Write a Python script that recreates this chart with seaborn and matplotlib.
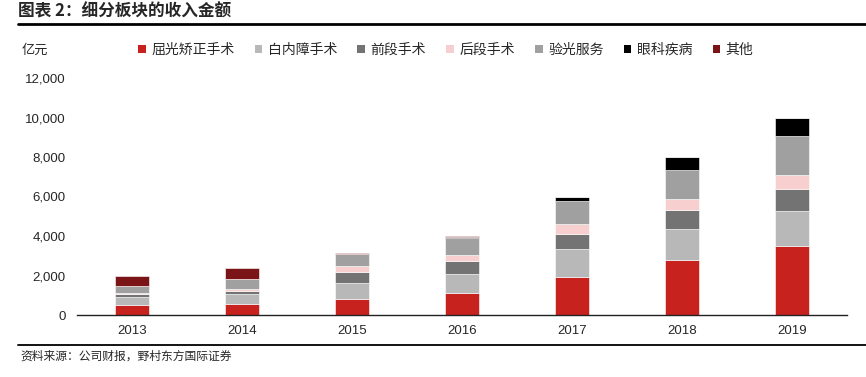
import matplotlib
matplotlib.use("Agg")
import matplotlib.pyplot as plt
import seaborn as sns
import numpy as np
import pandas as pd
from matplotlib.lines import Line2D
from matplotlib.patches import Patch

years = ["2013", "2014", "2015", "2016", "2017", "2018", "2019"]
segments = ["屈光矫正手术", "白内障手术", "前段手术", "后段手术", "验光服务", "眼科疾病", "其他"]
refractive = [500, 560, 795, 1100, 1905, 2800, 3510]
cataract = [390, 490, 810, 995, 1420, 1555, 1770]
anterior = [150, 170, 555, 625, 775, 980, 1115]
posterior = [90, 100, 335, 320, 505, 540, 710]
optometry = [350, 490, 610, 860, 1180, 1485, 1940]
eye_disease = [0, 0, 0, 50, 170, 660, 950]
other = [510, 580, 35, 30, 0, 0, 0]
yticks = [0, 2000, 4000, 6000, 8000, 10000, 12000]
ytick_labels = ["0", "2,000", "4,000", "6,000", "8,000", "10,000", "12,000"]

series = [refractive, cataract, anterior, posterior, optometry, eye_disease, other]
colors = ["#C8221F", "#B8B8B8", "#737373", "#F7CFCF", "#A0A0A0", "#000000", "#7A1416"]

sns.set_style("white")
plt.rcParams["font.family"] = ["Liberation Sans", "Noto Sans CJK SC", "DejaVu Sans"]

fig = plt.figure(figsize=(8.66, 3.77), dpi=100)
ax = fig.add_axes([77/866, 1-315/377, (847-77)/866, (315-78)/377])

bottom = np.zeros(len(years))
for name, vals, col in zip(segments, series, colors):
    df = pd.DataFrame({"year": years, "value": vals})
    sns.barplot(data=df, x="year", y="value", color=col, width=0.31,
                bottom=bottom.copy(), ax=ax, edgecolor="white", linewidth=0.4,
                errorbar=None, saturation=1)
    bottom = bottom + np.array(vals, dtype=float)

ax.set_ylim(0, 12000)
ax.set_xlim(-0.5, len(years) - 0.5)
ax.set_yticks(yticks)
ax.set_yticklabels(ytick_labels, fontsize=9.5)
ax.set_xlabel("")
ax.set_ylabel("")
ax.tick_params(axis="x", labelsize=9.5, length=0, pad=7)
ax.tick_params(axis="y", length=0, pad=8)
ax.set_xticks(np.arange(-0.5, len(years) - 0.4, 1), minor=True)
ax.tick_params(axis="x", which="minor", length=4, width=0.8, color="#333333", direction="out")
for s in ["top", "right", "left"]:
    ax.spines[s].set_visible(False)
ax.spines["bottom"].set_color("#222222")
ax.spines["bottom"].set_linewidth(1.0)

handles = [Patch(facecolor=c, edgecolor="none") for c in colors]
fig.legend(handles, segments, loc="center left", bbox_to_anchor=(138/866, 1-50/377), ncol=7,
           frameon=False, handlelength=0.55, handleheight=0.55,
           handletextpad=0.4, columnspacing=1.45, borderaxespad=0, borderpad=0,
           prop={"family": ["Noto Sans CJK SC"], "size": 10})

fig.text(22/866, 1-50/377, "亿元", fontsize=9.5, va="center", ha="left",
         family=["Noto Sans CJK SC"])
fig.text(18/866, 1-12/377, "图表 2：细分板块的收入金额", fontsize=12, fontweight="bold",
         va="center", ha="left", family=["Noto Sans CJK SC"])
fig.add_artist(Line2D([18/866, 1.0], [1-24/377, 1-24/377], color="black", lw=2.0,
                      transform=fig.transFigure))
fig.add_artist(Line2D([18/866, 1.0], [1-345/377, 1-345/377], color="black", lw=1.3,
                      transform=fig.transFigure))
fig.text(20/866, 1-356/377, "资料来源：公司财报，野村东方国际证券", fontsize=8.5, va="center",
         ha="left", family=["Noto Sans CJK SC"])

fig.savefig("out.png", dpi=100)
